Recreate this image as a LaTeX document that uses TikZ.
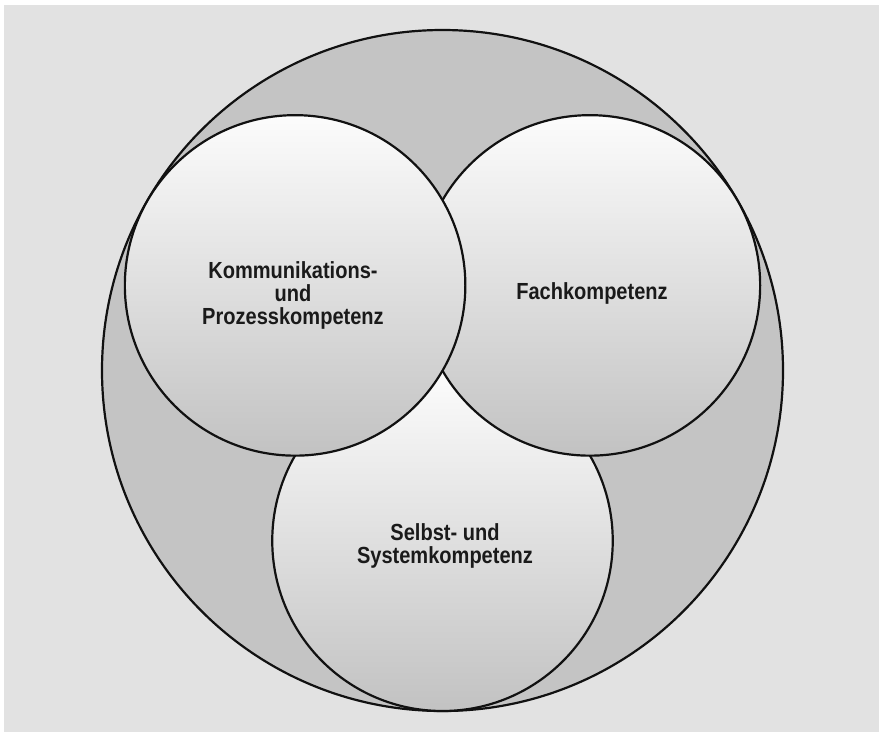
\documentclass[tikz,border=0pt]{standalone}
\usepackage{fontspec}
\newfontfamily\lblfont{Liberation Sans}[FakeStretch=0.86]
\definecolor{pagebg}{HTML}{E2E2E2}
\definecolor{ringfill}{HTML}{C4C4C4}
\definecolor{shadetop}{HTML}{FCFCFC}
\definecolor{shadebot}{HTML}{C2C2C2}
\definecolor{ink}{HTML}{111111}
\definecolor{txt}{HTML}{1A1A1A}
\begin{document}
\begin{tikzpicture}[x=1pt,y=-1pt,
  outline/.style={draw=ink, line width=2.2pt},
  outerdisc/.style={outline, circle, fill=ringfill, minimum size=681pt, inner sep=0pt},
  compdisc/.style={outline, circle, top color=shadetop, bottom color=shadebot, minimum size=340.5pt, inner sep=0pt},
  lbl/.style={text=txt, align=center, inner sep=0pt,
    font=\lblfont\bfseries\fontsize{23.3}{23}\selectfont}
]
  \useasboundingbox (0,0) rectangle (879,732);
  \fill[pagebg] (4,5) rectangle (879,732);

  % enclosing circle
  \node[outerdisc] (outer) at (442.5,370.5) {};

  % three competence circles, each half the radius of the enclosing one
  \node[compdisc] (bottom) at (442.5,540.75) {};
  \node[compdisc] (right) at (589.9,285.4) {};
  \node[compdisc] (left) at (295.1,285.4) {};

  % labels
  \node[lbl] (lleft) at (293,295) {Kommunikations-\\und\\Prozesskompetenz};
  \node[lbl] (lright) at (592,293) {Fachkompetenz};
  \node[lbl] (lbottom) at (445,546) {Selbst- und\\Systemkompetenz};
\end{tikzpicture}
\end{document}
